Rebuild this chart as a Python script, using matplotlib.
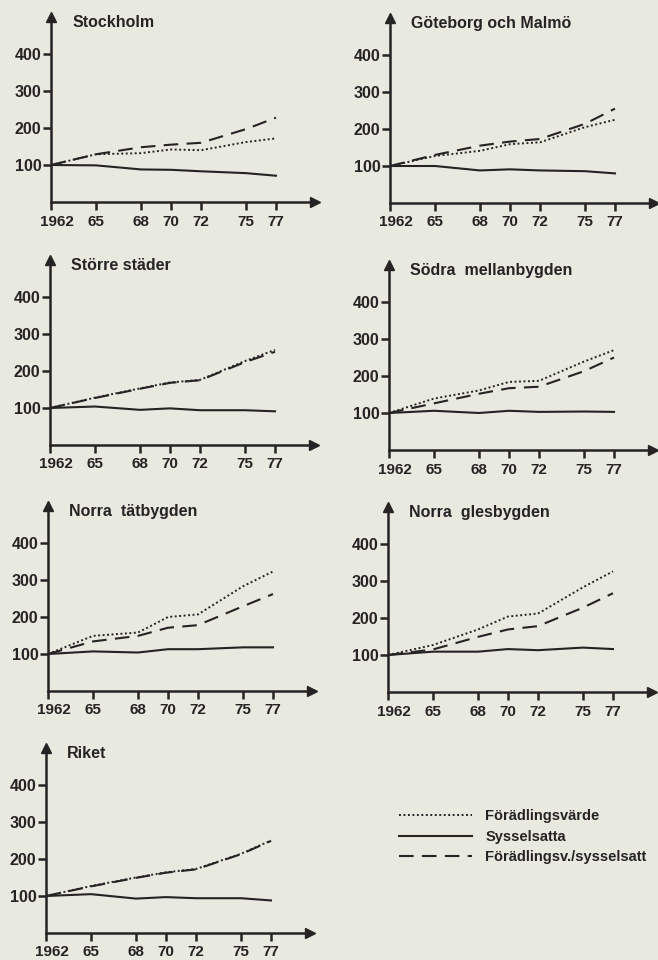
import matplotlib.pyplot as plt
from matplotlib.transforms import ScaledTranslation

years = [1962, 1965, 1968, 1970, 1972, 1975, 1977]
tick_labels = ['1962', '65', '68', '70', '72', '75', '77']

regions = ['Stockholm', 'Göteborg och Malmö', 'Större städer', 'Södra  mellanbygden',
           'Norra  tätbygden', 'Norra  glesbygden', 'Riket']

# Förädlingsvärde (dotted)
fv = [
    [100, 129, 132, 142, 140, 162, 172],
    [100, 127, 141, 159, 164, 205, 225],
    [100, 128, 153, 169, 176, 227, 257],
    [100, 139, 161, 184, 187, 239, 270],
    [100, 149, 158, 200, 207, 283, 323],
    [100, 127, 169, 204, 212, 283, 326],
    [100, 127, 150, 164, 173, 214, 250],
]
# Sysselsatta (solid)
ss = [
    [100, 99, 88, 87, 83, 78, 71],
    [100, 100, 88, 91, 88, 86, 80],
    [100, 104, 95, 99, 94, 94, 91],
    [100, 106, 100, 106, 103, 104, 103],
    [100, 107, 104, 113, 113, 118, 118],
    [100, 109, 109, 116, 113, 120, 116],
    [100, 105, 93, 97, 94, 94, 88],
]
# Förädlingsv./sysselsatt (dashed)
fvs = [
    [100, 129, 148, 155, 160, 197, 228],
    [100, 130, 155, 166, 173, 214, 255],
    [100, 127, 152, 168, 175, 224, 252],
    [100, 126, 152, 167, 171, 213, 250],
    [100, 134, 149, 171, 178, 229, 262],
    [100, 115, 149, 169, 178, 228, 267],
    [100, 126, 149, 163, 172, 213, 249],
]

# pixel position of each panel's origin (y-axis x, x-axis y)
origins = [(51, 202), (390, 203), (50, 445), (389, 450), (48, 691), (388, 692), (46, 933)]

W, H = 658, 960
bg = '#e8eae0'
ink = '#262324'
plt.rcParams['font.family'] = ['Liberation Sans', 'DejaVu Sans']

fig = plt.figure(figsize=(W / 100, H / 100), dpi=100, facecolor=bg)

for i, name in enumerate(regions):
    x0, y0 = origins[i]
    ax = fig.add_axes([x0 / W, (H - y0) / H, 264 / W, 185 / H])
    ax.set_facecolor('none')
    ax.plot(years, fv[i], color=ink, lw=1.4, ls=(0, (1, 1.3)))
    ax.plot(years, ss[i], color=ink, lw=1.5, ls='-')
    ax.plot(years, fvs[i], color=ink, lw=1.5, ls=(0, (7, 4)))
    ax.set_xlim(1962, 1979.6)
    ax.set_ylim(0, 500)
    for s in ['top', 'right']:
        ax.spines[s].set_visible(False)
    for s in ['left', 'bottom']:
        ax.spines[s].set_linewidth(1.8)
        ax.spines[s].set_color(ink)
    ax.plot(1, 0, '>', color=ink, ms=6.5, transform=ax.transAxes, clip_on=False)
    ax.plot(0, 1, '^', color=ink, ms=6.5, transform=ax.transAxes, clip_on=False)
    ax.set_xticks(years)
    ax.set_xticklabels(tick_labels)
    ax.set_yticks([100, 200, 300, 400])
    ax.tick_params(axis='both', colors=ink, width=1.8, length=6)
    ax.tick_params(axis='x', labelsize=11, pad=3)
    ax.tick_params(axis='y', labelsize=11.5, pad=1)
    for lab in ax.get_xticklabels() + ax.get_yticklabels():
        lab.set_fontweight('bold')
        lab.set_color(ink)
    first = ax.get_xticklabels()[0]
    first.set_transform(first.get_transform() + ScaledTranslation(0.06, 0, fig.dpi_scale_trans))
    ax.text(0.08, 0.97, name, transform=ax.transAxes, va='center', ha='left',
            fontsize=11.5, fontweight='bold', color=ink)

handles = [
    plt.Line2D([], [], color=ink, lw=1.4, ls=(0, (1, 1.3))),
    plt.Line2D([], [], color=ink, lw=1.5, ls='-'),
    plt.Line2D([], [], color=ink, lw=1.5, ls=(0, (7, 4))),
]
labels = ['Förädlingsvärde', 'Sysselsatta', 'Förädlingsv./sysselsatt']
leg = fig.legend(handles, labels, loc='upper left', bbox_to_anchor=(386 / W, 1 - 796 / H),
                 frameon=False, handlelength=5.0, handletextpad=0.9, labelspacing=0.45,
                 prop={'size': 10.5, 'weight': 'bold'})
for t in leg.get_texts():
    t.set_color(ink)

fig.savefig('out.png', dpi=100, facecolor=bg)
